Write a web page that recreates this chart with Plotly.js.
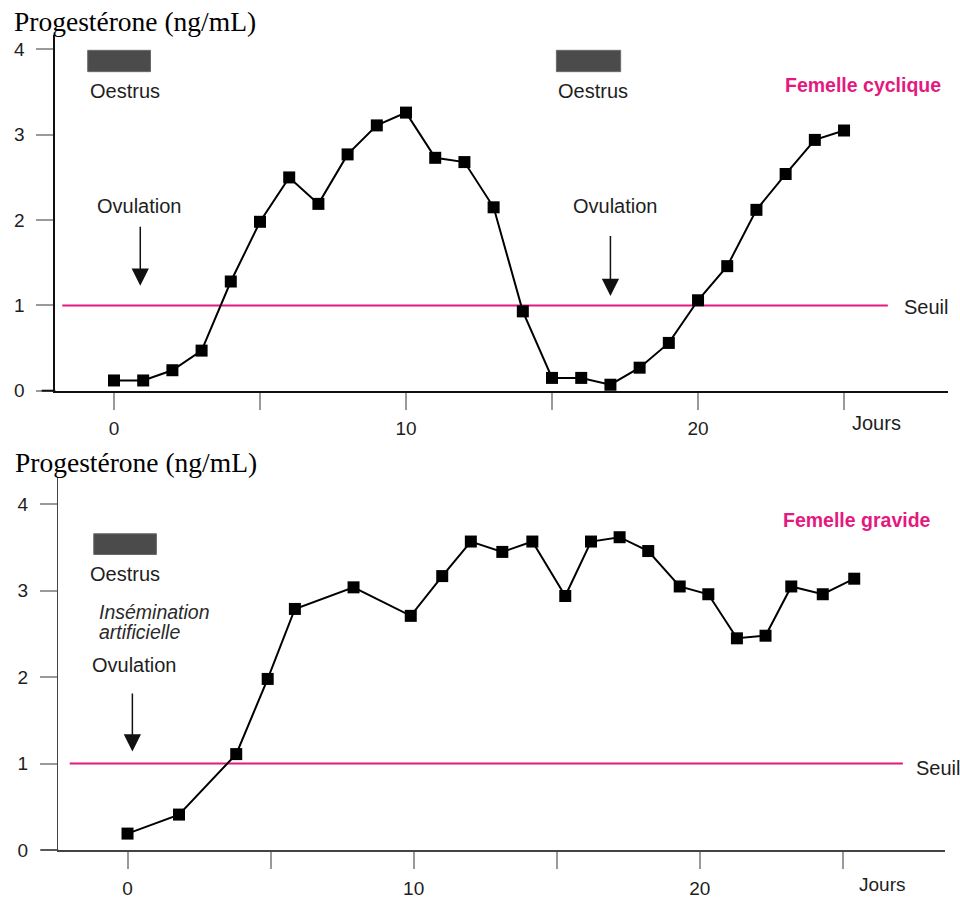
<!DOCTYPE html>
<html>
<head>
<meta charset="utf-8">
<script src="https://cdn.plot.ly/plotly-3.0.1.min.js"></script>
<style>html,body{margin:0;padding:0;background:#fff;}#chart{width:960px;height:899px;}</style>
</head>
<body>
<div id="chart"></div>
<script>
// ---- Data ----
const joursCyclique = [0,1,2,3,4,5,6,7,8,9,10,11,12,13,14,15,16,17,18,19,20,21,22,23,24,25];
const progCyclique  = [0.12,0.12,0.24,0.47,1.28,1.98,2.50,2.19,2.77,3.11,3.26,2.73,2.68,2.15,0.93,0.15,0.15,0.07,0.27,0.56,1.06,1.46,2.12,2.54,2.94,3.05];

const joursGravide = [0,1.8,3.8,4.9,5.85,7.9,9.9,11,12,13.1,14.15,15.3,16.2,17.2,18.2,19.3,20.3,21.3,22.3,23.2,24.3,25.4];
const progGravide  = [0.19,0.41,1.11,1.98,2.79,3.04,2.71,3.17,3.57,3.45,3.57,2.94,3.57,3.62,3.46,3.05,2.96,2.45,2.48,3.05,2.96,3.14];

const seuil = 1;
const oestrusCyclique = [[-0.9,1.25],[15.15,17.35]];
const oestrusGravide = [[-1.18,1.01]];
const ovulationCyclique = [0.9,17.0];
const ovulationGravide = [0.17];

const xTickVals = [0,5,10,15,20,25];
const xTickText = ['0','','10','','20',''];
const yTickVals = [0,1,2,3,4];
const yTickText = ['0','1','2','3','4'];

// ---- Styles ----
const MAGENTA = '#e4197f';
const SANS = 'Liberation Sans, Arial, sans-serif';
const SERIF = 'Liberation Serif, Times New Roman, serif';
const TXT = '#1e1e1e';

function axisStyle(lc, lw){
  return {
    showline:true, linecolor:lc, linewidth:lw, showgrid:false, zeroline:false,
    ticks:'outside', ticklen:17, tickwidth:2, tickcolor:'#9a9a9a',
    tickfont:{family:SANS, size:19, color:TXT}, fixedrange:true
  };
}

const traces = [
  {x:joursCyclique, y:progCyclique, xaxis:'x', yaxis:'y', mode:'lines+markers',
   line:{color:'#000', width:2}, marker:{symbol:'square', size:12, color:'#000'}, cliponaxis:false, hoverinfo:'skip'},
  {x:joursGravide, y:progGravide, xaxis:'x2', yaxis:'y2', mode:'lines+markers',
   line:{color:'#000', width:2}, marker:{symbol:'square', size:12, color:'#000'}, cliponaxis:false, hoverinfo:'skip'}
];

const shapes = [];
// threshold lines
shapes.push({type:'line', xref:'x', yref:'y', x0:-1.77, x1:26.5, y0:seuil, y1:seuil, line:{color:MAGENTA, width:2}, layer:'below'});
shapes.push({type:'line', xref:'x2', yref:'y2', x0:-2.02, x1:27.1, y0:seuil, y1:seuil, line:{color:MAGENTA, width:2}, layer:'below'});
// oestrus bars
oestrusCyclique.forEach(function(o){
  shapes.push({type:'rect', xref:'x', yref:'y', x0:o[0], x1:o[1], y0:3.74, y1:3.99, fillcolor:'#4b4b4b', line:{color:'#6a6a6a', width:1}});
});
oestrusGravide.forEach(function(o){
  shapes.push({type:'rect', xref:'x2', yref:'y2', x0:o[0], x1:o[1], y0:3.42, y1:3.66, fillcolor:'#4b4b4b', line:{color:'#6a6a6a', width:1}});
});
// x-axis overhang left of y axis
shapes.push({type:'line', xref:'paper', yref:'paper', x0:0.0434, x1:0.0576, y0:0.5654, y1:0.5654, line:{color:'#111', width:2}});
shapes.push({type:'line', xref:'paper', yref:'paper', x0:0.0424, x1:0.0607, y0:0.0545, y1:0.0545, line:{color:'#444', width:1.5}});

const F = {family:SANS, size:20, color:TXT};
const FI = {family:SANS, size:19.5, color:'#2a2a2a'};
const annotations = [
  {xref:'paper', yref:'paper', x:0.012, y:0.9765, xanchor:'left', yanchor:'middle', text:'Progestérone (ng/mL)', showarrow:false, font:{family:SERIF, size:27.5, color:'#000'}},
  {xref:'paper', yref:'paper', x:0.0135, y:0.4855, xanchor:'left', yanchor:'middle', text:'Progestérone (ng/mL)', showarrow:false, font:{family:SERIF, size:27.5, color:'#000'}},
  // top chart
  {xref:'x', yref:'y', x:0.37, y:3.51, text:'Oestrus', showarrow:false, font:F},
  {xref:'x', yref:'y', x:16.4, y:3.51, text:'Oestrus', showarrow:false, font:F},
  {xref:'x', yref:'y', x:28.4, y:3.58, xanchor:'right', text:'<b>Femelle cyclique</b>', showarrow:false, font:{family:SANS, size:19.5, color:MAGENTA}},
  {xref:'x', yref:'y', x:0.89, y:2.17, text:'Ovulation', showarrow:false, font:F},
  {xref:'x', yref:'y', x:17.16, y:2.17, text:'Ovulation', showarrow:false, font:F},
  {xref:'x', yref:'y', x:27.0, y:0.98, xanchor:'left', text:'Seuil', showarrow:false, font:F},
  {xref:'paper', yref:'paper', x:0.9406, y:0.5295, yanchor:'middle', text:'Jours', showarrow:false, font:F},
  // bottom chart
  {xref:'x2', yref:'y2', x:-0.09, y:3.19, text:'Oestrus', showarrow:false, font:F},
  {xref:'x2', yref:'y2', x:-1.07, y:2.76, xanchor:'left', text:'<i>Insémination</i>', showarrow:false, font:FI},
  {xref:'x2', yref:'y2', x:-1.07, y:2.52, xanchor:'left', text:'<i>artificielle</i>', showarrow:false, font:FI},
  {xref:'x2', yref:'y2', x:0.24, y:2.14, text:'Ovulation', showarrow:false, font:F},
  {xref:'x2', yref:'y2', x:28.14, y:3.82, xanchor:'right', text:'<b>Femelle gravide</b>', showarrow:false, font:{family:SANS, size:19.5, color:MAGENTA}},
  {xref:'x2', yref:'y2', x:27.48, y:0.95, xanchor:'left', text:'Seuil', showarrow:false, font:F},
  {xref:'paper', yref:'paper', x:0.9445, y:0.002, yanchor:'bottom', text:'Jours', showarrow:false, font:{family:SANS, size:19, color:TXT}}
];
// ovulation arrows
const arrTop = [[1.94,1.23],[1.83,1.11]];
ovulationCyclique.forEach(function(d,i){
  annotations.push({xref:'x', yref:'y', axref:'x', ayref:'y', x:d, y:arrTop[i][1], ax:d, ay:arrTop[i][0], text:'', showarrow:true, arrowhead:2, arrowsize:2.3, arrowwidth:1.5, arrowcolor:'#111', standoff:0, startstandoff:0});
});
ovulationGravide.forEach(function(d){
  annotations.push({xref:'x2', yref:'y2', axref:'x2', ayref:'y2', x:d, y:1.14, ax:d, ay:1.83, text:'', showarrow:true, arrowhead:2, arrowsize:2.3, arrowwidth:1.5, arrowcolor:'#111', standoff:0, startstandoff:0});
});

const layout = {
  width:960, height:899, margin:{l:0, r:0, t:0, b:0},
  paper_bgcolor:'#fff', plot_bgcolor:'#fff', showlegend:false,
  xaxis:Object.assign(axisStyle('#111',2), {domain:[0.0576,0.9875], range:[-2.01,28.56], tickvals:xTickVals, ticktext:xTickText, anchor:'y', ticklabelstandoff:2}),
  yaxis:Object.assign(axisStyle('#111',2), {domain:[0.5654,0.9611], range:[0,4.17], tickvals:yTickVals, ticktext:yTickText, anchor:'x', ticklabelstandoff:8}),
  xaxis2:Object.assign(axisStyle('#444',1.5), {domain:[0.0607,0.984], range:[-2.42,28.56], tickvals:xTickVals, ticktext:xTickText, anchor:'y2', ticklabelstandoff:4}),
  yaxis2:Object.assign(axisStyle('#444',1.5), {domain:[0.0545,0.4697], range:[0,4.32], tickvals:yTickVals, ticktext:yTickText, anchor:'x2', ticklabelstandoff:8}),
  shapes:shapes, annotations:annotations
};

Plotly.newPlot('chart', traces, layout, {staticPlot:true, displayModeBar:false});
</script>
</body>
</html>
